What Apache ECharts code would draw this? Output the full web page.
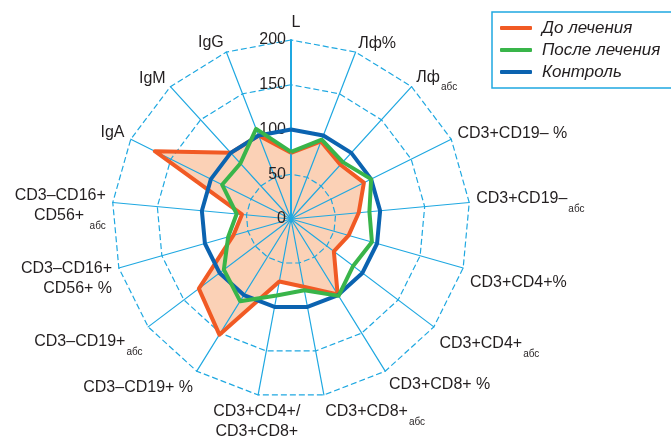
<!DOCTYPE html>
<html>
<head>
<meta charset="utf-8">
<script src="https://cdn.jsdelivr.net/npm/echarts@6/dist/echarts.min.js"></script>
<style>
html,body{margin:0;padding:0;background:#fff;}
#chart{width:671px;height:441px;}
</style>
</head>
<body>
<div id="chart"></div>
<script>
// Indicators listed clockwise starting from the top axis
const indicatorNames = ['L', 'Лф%', 'Лф', 'CD3+CD19– %', 'CD3+CD19–', 'CD3+CD4+%', 'CD3+CD4+', 'CD3+CD8+ %', 'CD3+CD8+', 'CD3+CD4+/\nCD3+CD8+', 'CD3–CD19+ %', 'CD3–CD19+', 'CD3–CD16+\nCD56+ %', 'CD3–CD16+\nCD56+ ', 'IgA', 'IgM', 'IgG'];
const indicatorSubs = ['', '', 'абс', '', 'абс', '', 'абс', '', 'абс', '', '', 'абс', '', 'абс', '', '', ''];
const seriesNames = ['До лечения', 'После лечения', 'Контроль'];
const beforeValues = [74, 93, 82, 91, 76, 67, 60, 99, 77, 71, 152, 129, 67, 55, 170, 100, 100];
const afterValues = [75, 95, 86, 100, 88, 94, 87, 101, 81, 87, 108, 94, 73, 61, 86, 84, 108];
const controlValues = [100, 100, 100, 100, 100, 100, 100, 100, 100, 100, 100, 100, 100, 100, 100, 100, 100];
const axisMin = 0;
const axisMax = 200;
const axisSplits = 4;

// ECharts radar runs counter-clockwise; reorder so the picture runs clockwise
const n = indicatorNames.length;
const order = [];
for (let k = 0; k < n; k++) order.push((n - k) % n);
const reorder = arr => order.map(i => arr[i]);

// per-axis name placement tweaks (alignment / padding only)
const nameTweaks = {
  0: {padding: [0, 0, 0, 10]},
  1: {padding: [0, 0, 4, 0]},
  2: {padding: [0, 0, 8, 0]},
  3: {padding: [0, 0, 5, 0]},
  4: {padding: [0, 0, 6, 0]},
  5: {verticalAlign: 'top', padding: [3, 0, 0, 0]},
  6: {verticalAlign: 'top', padding: [3, 0, 0, 0]},
  7: {padding: [14, 0, 0, 0]},
  8: {verticalAlign: 'top'},
  9: {align: 'center', verticalAlign: 'top'},
  10: {verticalAlign: 'top'},
  11: {verticalAlign: 'top', padding: [1, 0, 0, 0]},
  12: {padding: [18, 0, 0, 0]},
  13: {padding: [8, 0, 0, 0]},
  14: {padding: [0, 0, 6, 0]},
  15: {padding: [0, 0, 6, 0]},
  16: {padding: [0, 0, 6, 0]}
};

const indicator = order.map(i => {
  const ind = {
    name: indicatorNames[i] + (indicatorSubs[i] ? '{s|' + indicatorSubs[i] + '}' : ''),
    min: axisMin,
    max: axisMax
  };
  if (i === 0) {
    ind.axisLabel = {show: true, showMinLabel: true, showMaxLabel: true, fontSize: 16,
      fontFamily: 'Liberation Sans', color: '#231f20', margin: 5};
    ind.axisLine = {lineStyle: {width: 2}};
  }
  if (nameTweaks[i]) ind.nameTextStyle = nameTweaks[i];
  return ind;
});

const COLORS = {before: '#f15a24', after: '#39b54a', control: '#0b63b0', grid: '#1fa8e1'};

const chart = echarts.init(document.getElementById('chart'));
chart.setOption({
  animation: false,
  backgroundColor: '#fff',
  legend: {
    data: seriesNames,
    orient: 'vertical',
    left: 492,
    top: 12,
    padding: [7, 30, 7, 8],
    itemGap: 4,
    itemWidth: 32,
    itemHeight: 4,
    icon: 'roundRect',
    borderColor: COLORS.grid,
    borderWidth: 1.5,
    borderRadius: 0,
    selectedMode: false,
    textStyle: {fontFamily: 'Liberation Sans', fontStyle: 'italic', fontSize: 17, lineHeight: 18,
      color: '#231f20', padding: [0, 0, 0, 5]}
  },
  radar: {
    z: 2,
    center: [291, 219],
    radius: 179,
    startAngle: 90,
    shape: 'polygon',
    splitNumber: axisSplits,
    nameGap: 7,
    axisName: {
      color: '#231f20',
      fontFamily: 'Liberation Sans',
      fontSize: 16,
      lineHeight: 20,
      rich: {
        s: {fontSize: 10, fontFamily: 'Liberation Sans', color: '#231f20', lineHeight: 10,
          verticalAlign: 'top', padding: [15, 0, 0, 1]}
      }
    },
    axisLine: {lineStyle: {color: COLORS.grid, width: 1.2}},
    axisTick: {show: false},
    splitLine: {lineStyle: {color: COLORS.grid, width: 1.2, type: [6, 3]}},
    splitArea: {show: false},
    indicator: indicator
  },
  series: [
    {
      type: 'radar',
      z: 1,
      silent: true,
      symbol: 'none',
      lineStyle: {width: 0, opacity: 0},
      areaStyle: {color: '#fbd1b6', opacity: 1},
      data: [{value: reorder(beforeValues), name: 'fill'}]
    },
    {
      type: 'radar',
      z: 3,
      symbol: 'none',
      data: [
        {value: reorder(beforeValues), name: seriesNames[0],
          lineStyle: {color: COLORS.before, width: 4}, itemStyle: {color: COLORS.before}},
        {value: reorder(controlValues), name: seriesNames[2],
          lineStyle: {color: COLORS.control, width: 4}, itemStyle: {color: COLORS.control}},
        {value: reorder(afterValues), name: seriesNames[1],
          lineStyle: {color: COLORS.after, width: 4}, itemStyle: {color: COLORS.after}}
      ]
    }
  ]
});
</script>
</body>
</html>
